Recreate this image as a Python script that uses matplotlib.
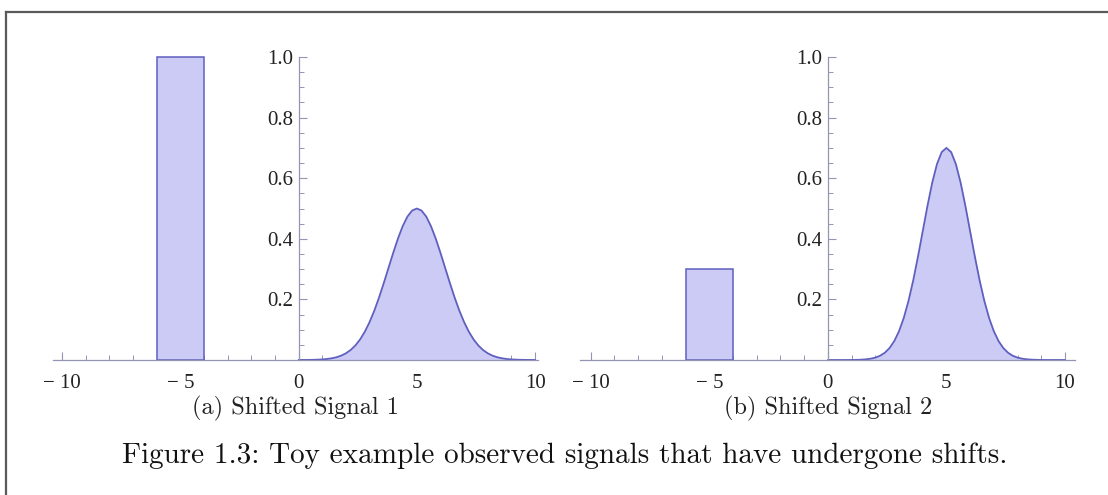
import matplotlib
matplotlib.use("Agg")
import matplotlib.pyplot as plt
import numpy as np
from matplotlib.lines import Line2D
from matplotlib.ticker import MultipleLocator, FixedLocator

# sample positions of the bump (0 .. 10, step 0.2)
bump_x = np.round(np.arange(0, 10.001, 0.2), 1)

# bump heights
bump_a = [0.0001, 0.0002, 0.0003, 0.0006, 0.0011, 0.0019, 0.0033, 0.0056, 0.0090, 0.0143,
          0.0220, 0.0329, 0.0478, 0.0677, 0.0931, 0.1247, 0.1623, 0.2056, 0.2532, 0.3033,
          0.3533, 0.4004, 0.4412, 0.4730, 0.4931, 0.5000, 0.4931, 0.4730, 0.4412, 0.4004,
          0.3533, 0.3033, 0.2532, 0.2056, 0.1623, 0.1247, 0.0931, 0.0677, 0.0478, 0.0329,
          0.0220, 0.0143, 0.0090, 0.0056, 0.0033, 0.0019, 0.0011, 0.0006, 0.0003, 0.0002,
          0.0001]
bump_b = [0.0000, 0.0000, 0.0000, 0.0000, 0.0001, 0.0002, 0.0005, 0.0011, 0.0022, 0.0042,
          0.0078, 0.0139, 0.0238, 0.0393, 0.0622, 0.0947, 0.1385, 0.1946, 0.2627, 0.3408,
          0.4246, 0.5083, 0.5847, 0.6462, 0.6861, 0.7000, 0.6861, 0.6462, 0.5847, 0.5083,
          0.4246, 0.3408, 0.2627, 0.1946, 0.1385, 0.0947, 0.0622, 0.0393, 0.0238, 0.0139,
          0.0078, 0.0042, 0.0022, 0.0011, 0.0005, 0.0002, 0.0001, 0.0000, 0.0000, 0.0000,
          0.0000]

# rectangular pulse: centre, width, height
box_center = -5
box_width = 2
box_a = 1.0
box_b = 0.3

x_ticks = [-10, -5, 0, 5, 10]
x_labels = ["\u2212 10", "\u2212 5", "0", "5", "10"]
y_ticks = [0.2, 0.4, 0.6, 0.8, 1.0]
y_labels = ["0.2", "0.4", "0.6", "0.8", "1.0"]

sub_captions = ["(a) Shifted Signal 1", "(b) Shifted Signal 2"]
caption = "Figure 1.3: Toy example observed signals that have undergone shifts."

LINE = "#5f5fc0"
FILL = "#cbcbf5"
AXIS = "#9494b4"
TICK_FONT = "Liberation Serif"

W, H = 1108, 495
fig = plt.figure(figsize=(W / 100, H / 100), dpi=100)


def panel(rect, xlim, box_h, bump_y):
    ax = fig.add_axes(rect)
    ax.set_xlim(*xlim)
    ax.set_ylim(0, 1.01)

    ax.bar(box_center, box_h, width=box_width, color=FILL, edgecolor=LINE,
           linewidth=1.1, zorder=2)
    ax.fill_between(bump_x, bump_y, 0, color=FILL, lw=0, zorder=2)
    ax.plot(bump_x, bump_y, color=LINE, lw=1.3, zorder=3,
            solid_joinstyle="round", solid_capstyle="round")

    for s in ["top", "right"]:
        ax.spines[s].set_visible(False)
    ax.spines["left"].set_position(("data", 0))
    ax.spines["left"].set_bounds(0, 1.0)
    ax.spines["bottom"].set_position(("data", 0))
    for s in ["left", "bottom"]:
        ax.spines[s].set_color(AXIS)
        ax.spines[s].set_linewidth(0.9)
        ax.spines[s].set_zorder(4)

    ax.xaxis.set_major_locator(FixedLocator(x_ticks))
    ax.xaxis.set_minor_locator(MultipleLocator(1))
    ax.set_xticklabels(x_labels)
    ax.yaxis.set_major_locator(FixedLocator(y_ticks))
    ax.yaxis.set_minor_locator(MultipleLocator(0.05))
    ax.set_yticklabels(y_labels)

    ax.tick_params(axis="x", which="major", direction="in", length=6, width=0.8,
                   color=AXIS, pad=10, labelsize=15)
    ax.tick_params(axis="x", which="minor", direction="in", length=3.5, width=0.7,
                   color=AXIS)
    ax.tick_params(axis="y", which="major", direction="in", length=6, width=0.8,
                   color=AXIS, pad=4, labelsize=15)
    ax.tick_params(axis="y", which="minor", direction="in", length=3.5, width=0.7,
                   color=AXIS)
    for lab in ax.get_xticklabels() + ax.get_yticklabels():
        lab.set_fontfamily(TICK_FONT)
        lab.set_color("#222222")
    ax.patch.set_alpha(0)
    return ax


bottom = 135 / H
height = 1.01 * 303 / H
panel([52.5 / W, bottom, 485 / W, height], (-10.4, 10.1), box_a, bump_a)
panel([580 / W, bottom, 494.5 / W, height], (-10.45, 10.4), box_b, bump_b)

# sub-figure labels and caption
fig.text(295 / W, 1 - 408 / H, sub_captions[0], family="cmr10", fontsize=17.5,
         ha="center", va="center", color="#222222")
fig.text(828 / W, 1 - 408 / H, sub_captions[1], family="cmr10", fontsize=17.5,
         ha="center", va="center", color="#222222")
fig.text(565 / W, 1 - 456 / H, caption, family="cmr10", fontsize=21,
         ha="center", va="center", color="#111111")

# page frame (top and left edges)
fig.add_artist(Line2D([6 / W, 1], [1 - 12 / H, 1 - 12 / H], color="#5a5a5a",
                      lw=1.6, transform=fig.transFigure))
fig.add_artist(Line2D([6 / W, 6 / W], [0, 1 - 12 / H], color="#5a5a5a",
                      lw=1.6, transform=fig.transFigure))

fig.savefig("out.png", dpi=100)
